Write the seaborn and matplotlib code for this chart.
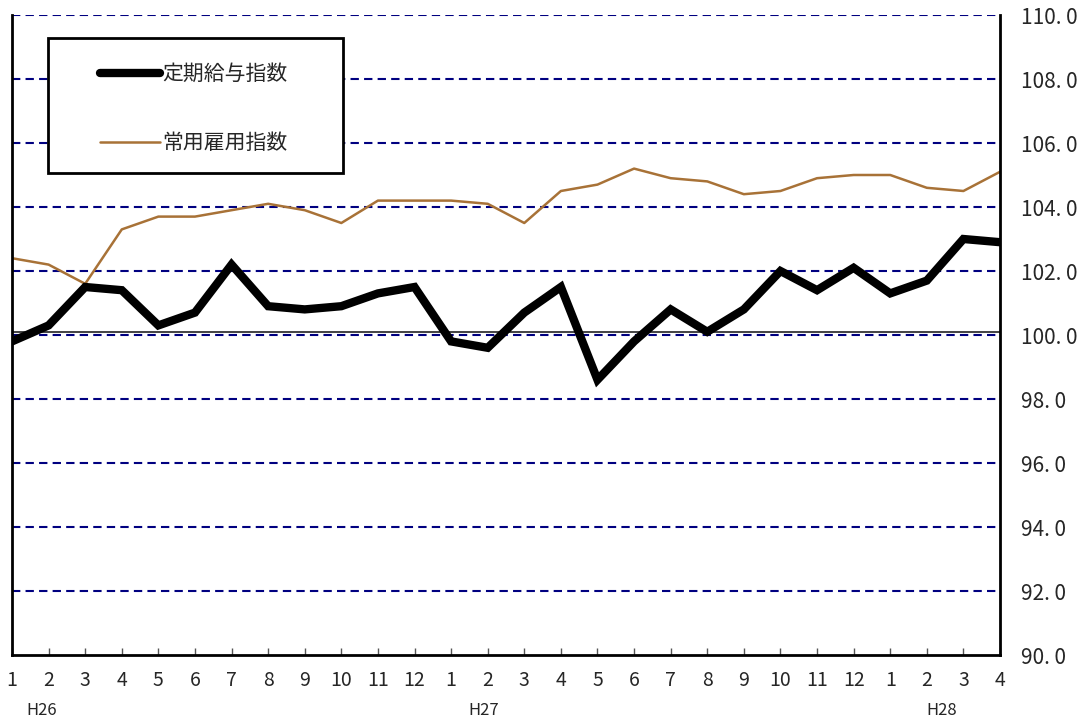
import matplotlib
matplotlib.use("Agg")
import matplotlib.pyplot as plt
import matplotlib.transforms as mtransforms
from matplotlib.lines import Line2D
from matplotlib.patches import Rectangle
import numpy as np
import pandas as pd
import seaborn as sns

# 月ラベル (H26.1 〜 H28.4)
months = [1, 2, 3, 4, 5, 6, 7, 8, 9, 10, 11, 12,
          1, 2, 3, 4, 5, 6, 7, 8, 9, 10, 11, 12,
          1, 2, 3, 4]
# 定期給与指数
wage_index = [99.8, 100.3, 101.5, 101.4, 100.3, 100.7, 102.2, 100.9, 100.8, 100.9, 101.3, 101.5,
              99.8, 99.6, 100.7, 101.5, 98.6, 99.8, 100.8, 100.1, 100.8, 102.0, 101.4, 102.1,
              101.3, 101.7, 103.0, 102.9]
# 常用雇用指数
employ_index = [102.4, 102.2, 101.6, 103.3, 103.7, 103.7, 103.9, 104.1, 103.9, 103.5, 104.2, 104.2,
                104.2, 104.1, 103.5, 104.5, 104.7, 105.2, 104.9, 104.8, 104.4, 104.5, 104.9, 105.0,
                105.0, 104.6, 104.5, 105.1]
year_labels = ["H26", "H27", "H28"]
year_pos = [1.8, 13.9, 26.4]
y_ticks = [90, 92, 94, 96, 98, 100, 102, 104, 106, 108, 110]

sns.set_style("white")
plt.rcParams["font.family"] = ["Noto Sans CJK JP", "DejaVu Sans"]

x = np.arange(1, len(months) + 1)
df = pd.DataFrame({"x": x, "wage": wage_index, "employ": employ_index})

fig = plt.figure(figsize=(10.85, 7.19), dpi=100)
ax = fig.add_axes([12 / 1085, 1 - 655 / 719, 988 / 1085, 640 / 719])

BROWN = "#A87237"
NAVY = "#000080"

# 水平破線グリッド
for v in y_ticks[1:]:
    ax.axhline(v, color=NAVY, lw=1.5, ls=(0, (4, 2.5)), zorder=1)
ax.axhline(100.08, color="#222222", lw=1.2, zorder=1.5)

sns.lineplot(data=df, x="x", y="employ", color=BROWN, lw=1.8, ax=ax, zorder=3)
sns.lineplot(data=df, x="x", y="wage", color="black", lw=6, ax=ax, zorder=4,
             solid_joinstyle="miter")

ax.set_xlim(1, len(months))
ax.set_ylim(90, 110)
ax.set_xlabel("")
ax.set_ylabel("")

ax.set_xticks(x)
ax.set_xticklabels([str(m) for m in months], fontsize=14)
ax.tick_params(axis="x", direction="in", length=5, width=1, color="#555555", pad=11, bottom=True)

ax.yaxis.tick_right()
ax.set_yticks(y_ticks)
ax.set_yticklabels([f"{v:.1f}".replace(".", ". ") for v in y_ticks], fontsize=15)
ax.tick_params(axis="y", length=0, pad=15)

for side in ["left", "right", "bottom"]:
    ax.spines[side].set_visible(True)
    ax.spines[side].set_color("black")
    ax.spines[side].set_linewidth(2)
    ax.spines[side].set_zorder(5)
ax.spines["top"].set_visible(False)

trans = mtransforms.blended_transform_factory(ax.transData, ax.transAxes)
for lab, pos in zip(year_labels, year_pos):
    ax.text(pos, -0.087, lab, transform=trans, ha="center", va="center", fontsize=12)

# 凡例ボックス
ax.add_patch(Rectangle((36 / 988, 1 - 158 / 640), 295 / 988, 135 / 640,
                       transform=ax.transAxes, facecolor="white", edgecolor="black",
                       lw=2, zorder=6))
handles = [Line2D([0], [0], color="black", lw=6, solid_capstyle="round"),
           Line2D([0], [0], color=BROWN, lw=1.8)]
leg = ax.legend(handles, ["定期給与指数", "常用雇用指数"], loc="upper left",
                bbox_to_anchor=(88 / 988, 1 - 48 / 640), borderaxespad=0, borderpad=0,
                frameon=False, fontsize=15, handlelength=2.9, handletextpad=0.1,
                labelspacing=2.25)
leg.set_zorder(7)

fig.savefig("out.png", dpi=100)
